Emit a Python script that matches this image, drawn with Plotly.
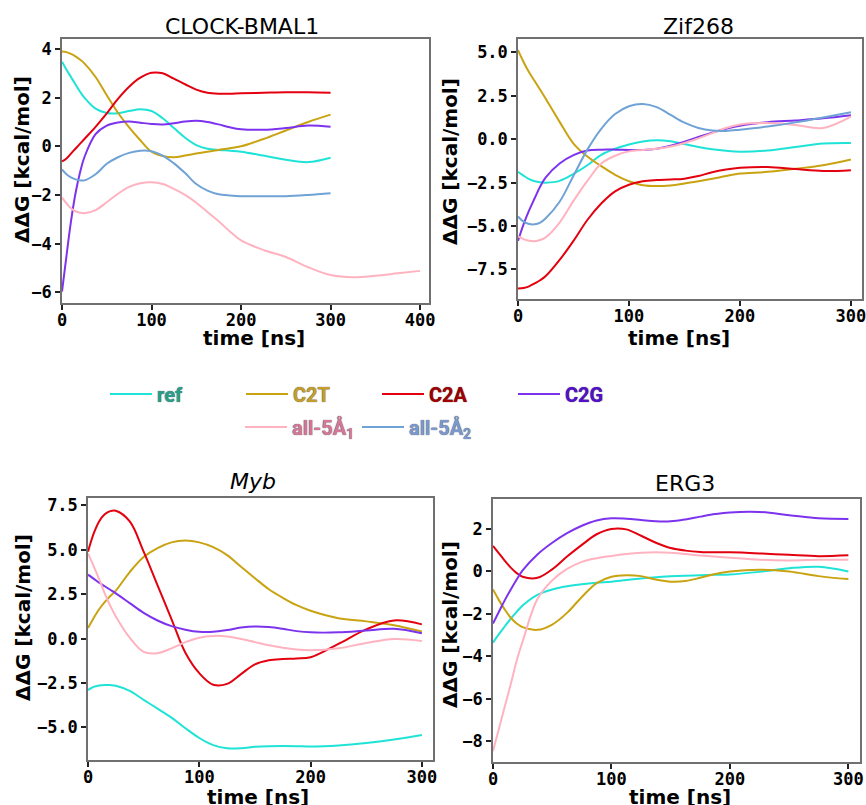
import plotly.graph_objects as go

W, H = 866, 805

# common time grid (ns)
t = [0, 5, 10, 15, 20, 25, 37.5, 50, 62.5, 75, 87.5, 100, 112.5, 125, 137.5,
     150, 162.5, 175, 187.5, 200, 225, 250, 275, 300]
t_long = t + [325, 350, 375, 400]

names = ["ref", "C2T", "C2A", "C2G", "all-5Å<sub>1</sub>", "all-5Å<sub>2</sub>"]
line_colors = ["#1fe3d7", "#c9a311", "#e3000f", "#7d33ee", "#ffb3c0", "#6fa3d6"]
text_colors = ["#2a9e8a", "#c49e2a", "#a00000", "#5410c8", "#d5779a", "#7b98cf"]

# CLOCK-BMAL1
cb_ref = [3.48, 3.15, 2.85, 2.55, 2.25, 2.0, 1.55, 1.37, 1.36, 1.45, 1.52, 1.45, 1.15, 0.75,
          0.35, 0.05, -0.1, -0.15, -0.18, -0.22, -0.38, -0.55, -0.65, -0.47]
cb_c2t = [3.9, 3.87, 3.8, 3.7, 3.57, 3.41, 2.85, 2.1, 1.38, 0.78, 0.25, -0.22, -0.4, -0.45,
          -0.38, -0.3, -0.22, -0.15, -0.08, 0.0, 0.3, 0.65, 1.0, 1.3]
cb_c2a = [-0.62, -0.5, -0.3, -0.1, 0.1, 0.3, 0.8, 1.35, 1.95, 2.45, 2.82, 3.02, 3.0, 2.78,
          2.55, 2.33, 2.2, 2.16, 2.16, 2.18, 2.2, 2.22, 2.22, 2.2]
cb_c2g = [-5.97, -4.5, -3.1, -1.95, -1.1, -0.45, 0.5, 0.85, 0.98, 1.02, 0.97, 0.92, 0.9, 0.95,
          1.02, 1.05, 1.0, 0.9, 0.78, 0.7, 0.68, 0.75, 0.85, 0.8]
cb_all1 = [-2.1, -2.35, -2.55, -2.67, -2.73, -2.75, -2.62, -2.3, -1.95, -1.67, -1.52, -1.48,
           -1.55, -1.75, -2.0, -2.32, -2.7, -3.08, -3.5, -3.87, -4.26, -4.55, -4.97, -5.29,
           -5.38, -5.32, -5.22, -5.12]
cb_all2 = [-0.95, -1.15, -1.28, -1.36, -1.4, -1.4, -1.15, -0.72, -0.45, -0.27, -0.18, -0.2,
           -0.38, -0.7, -1.1, -1.55, -1.82, -1.97, -2.02, -2.05, -2.05, -2.05, -2.0, -1.93]

# Zif268
zf_ref = [-1.87, -2.1, -2.3, -2.42, -2.48, -2.5, -2.4, -2.0, -1.5, -0.9, -0.55, -0.3, -0.13,
          -0.06, -0.12, -0.28, -0.45, -0.58, -0.67, -0.72, -0.65, -0.45, -0.25, -0.22]
zf_c2t = [5.13, 4.45, 3.85, 3.35, 2.85, 2.33, 1.0, -0.25, -1.0, -1.55, -2.05, -2.42, -2.65,
          -2.7, -2.66, -2.55, -2.42, -2.28, -2.12, -1.98, -1.88, -1.7, -1.5, -1.17]
zf_c2a = [-8.6, -8.57, -8.47, -8.3, -8.12, -7.88, -6.95, -5.85, -4.65, -3.7, -3.0, -2.62,
          -2.42, -2.35, -2.32, -2.27, -2.12, -1.9, -1.75, -1.65, -1.6, -1.72, -1.83, -1.78]
zf_c2g = [-5.85, -4.9, -4.1, -3.4, -2.72, -2.2, -1.4, -0.92, -0.65, -0.6, -0.6, -0.62, -0.62,
          -0.55, -0.38, -0.15, 0.13, 0.38, 0.6, 0.78, 0.98, 1.08, 1.2, 1.38]
zf_all1 = [-5.6, -5.75, -5.85, -5.87, -5.8, -5.65, -4.8, -3.55, -2.4, -1.4, -0.95, -0.7,
           -0.62, -0.55, -0.42, -0.22, 0.05, 0.35, 0.65, 0.85, 0.93, 0.82, 0.65, 1.3]
zf_all2 = [-4.45, -4.75, -4.88, -4.9, -4.8, -4.55, -3.6, -2.1, -0.6, 0.6, 1.45, 1.9, 2.03,
           1.85, 1.4, 0.95, 0.65, 0.5, 0.48, 0.55, 0.73, 0.97, 1.25, 1.55]

# Myb
my_ref = [-2.9, -2.72, -2.64, -2.61, -2.62, -2.66, -2.95, -3.45, -3.95, -4.45, -5.05, -5.6,
          -6.0, -6.18, -6.18, -6.1, -6.06, -6.05, -6.06, -6.08, -6.02, -5.88, -5.68, -5.43]
my_c2t = [0.6, 1.15, 1.65, 2.05, 2.4, 2.7, 3.75, 4.6, 5.1, 5.42, 5.52, 5.42, 5.15, 4.7, 4.05,
          3.4, 2.78, 2.3, 1.88, 1.57, 1.15, 0.97, 0.75, 0.4]
my_c2a = [4.9, 5.9, 6.6, 7.0, 7.18, 7.2, 6.6, 4.9, 3.0, 1.1, -0.8, -1.95, -2.6, -2.55, -2.0,
          -1.45, -1.22, -1.15, -1.12, -1.05, -0.3, 0.52, 1.02, 0.8]
my_c2g = [3.6, 3.38, 3.15, 2.95, 2.75, 2.55, 2.0, 1.45, 1.02, 0.7, 0.5, 0.38, 0.38, 0.48, 0.62,
          0.68, 0.65, 0.55, 0.42, 0.35, 0.35, 0.45, 0.55, 0.3]
my_all1 = [4.8, 4.1, 3.35, 2.55, 1.85, 1.25, 0.05, -0.75, -0.82, -0.55, -0.2, 0.05, 0.15, 0.12,
           -0.02, -0.2, -0.38, -0.52, -0.62, -0.66, -0.55, -0.25, -0.02, -0.13]

# ERG3
er_ref = [-3.35, -2.95, -2.58, -2.22, -1.9, -1.6, -1.1, -0.85, -0.7, -0.6, -0.53, -0.48, -0.4,
          -0.33, -0.27, -0.23, -0.2, -0.18, -0.16, -0.14, -0.02, 0.15, 0.22, 0.0]
er_c2t = [-0.85, -1.35, -1.8, -2.18, -2.45, -2.62, -2.75, -2.5, -1.95, -1.2, -0.55, -0.25,
          -0.18, -0.22, -0.38, -0.48, -0.45, -0.3, -0.12, 0.0, 0.08, 0.0, -0.22, -0.36]
er_c2a = [1.2, 0.85, 0.5, 0.18, -0.08, -0.25, -0.3, 0.1, 0.7, 1.25, 1.75, 2.0, 1.98, 1.68,
          1.35, 1.1, 0.98, 0.92, 0.9, 0.9, 0.85, 0.78, 0.72, 0.76]
er_c2g = [-2.45, -1.9, -1.35, -0.85, -0.38, 0.05, 0.8, 1.35, 1.8, 2.15, 2.4, 2.5, 2.48, 2.42,
          2.36, 2.36, 2.45, 2.58, 2.7, 2.78, 2.8, 2.65, 2.5, 2.47]
er_all1 = [-8.45, -7.4, -6.35, -5.3, -4.2, -3.3, -1.3, -0.42, 0.12, 0.45, 0.62, 0.73, 0.82,
           0.88, 0.9, 0.88, 0.82, 0.75, 0.7, 0.65, 0.55, 0.52, 0.55, 0.55]

panels = [
    dict(title="CLOCK-BMAL1", series=[(t, cb_ref), (t, cb_c2t), (t, cb_c2a), (t, cb_c2g),
                                      (t_long, cb_all1), (t, cb_all2)],
         box=(62, 429, 39, 303), xr=[0, 410], yr=[-6.44, 4.41], ytick=[-6, -4, -2, 0, 2, 4],
         xtick=[0, 100, 200, 300, 400], fmt="d",
         tpos=(242, 27), xlab=(254, 338), ylab=(22, 160)),
    dict(title="Zif268", series=[(t, zf_ref), (t, zf_c2t), (t, zf_c2a), (t, zf_c2g),
                                 (t, zf_all1), (t, zf_all2)],
         box=(518, 862, 39, 299), xr=[0, 310], yr=[-9.2, 5.77],
         ytick=[-7.5, -5.0, -2.5, 0.0, 2.5, 5.0], xtick=[0, 100, 200, 300], fmt=".1f",
         tpos=(698, 27), xlab=(679, 338), ylab=(450, 162)),
    dict(title="<i>Myb</i>", series=[(t, my_ref), (t, my_c2t), (t, my_c2a), (t, my_c2g),
                                     (t, my_all1), None],
         box=(88, 433, 498, 760), xr=[0, 310], yr=[-6.84, 7.92],
         ytick=[-5.0, -2.5, 0.0, 2.5, 5.0, 7.5], xtick=[0, 100, 200, 300], fmt=".1f",
         tpos=(253, 482), xlab=(258, 797), ylab=(23, 618)),
    dict(title="ERG3", series=[(t, er_ref), (t, er_c2t), (t, er_c2a), (t, er_c2g),
                               (t, er_all1), None],
         box=(493, 860, 499, 762), xr=[0, 309.8], yr=[-8.97, 3.41],
         ytick=[-8, -6, -4, -2, 0, 2], xtick=[0, 100, 200, 300], fmt="d",
         tpos=(685, 483), xlab=(680, 797), ylab=(450, 625)),
]

fig = go.Figure()
annotations = []
tick_font = dict(family="DejaVu Sans Mono", size=17, color="black", weight="bold")
label_font = dict(family="DejaVu Sans", size=20, color="black", weight="bold")

for i, p in enumerate(panels):
    k = "" if i == 0 else str(i + 1)
    for j, s in enumerate(p["series"]):
        if s is None:
            continue
        fig.add_trace(go.Scatter(
            x=s[0], y=s[1], mode="lines", xaxis="x" + k, yaxis="y" + k,
            line=dict(color=line_colors[j], width=2, shape="spline", smoothing=1.0),
            name="<span style='color:%s'>%s</span>" % (text_colors[j], names[j]),
            showlegend=(i == 0), legend="legend" if j < 4 else "legend2",
        ))
    x0, x1, y0, y1 = p["box"]
    ax = dict(showline=True, mirror=True, linecolor="#707070", linewidth=1.5,
              ticks="outside", ticklen=5, tickwidth=1.5, tickcolor="#222",
              showgrid=False, zeroline=False, tickfont=tick_font, automargin=False,
              ticklabeloverflow="allow")
    fig.update_layout(**{
        "xaxis" + k: dict(ax, domain=[x0 / W, x1 / W], range=p["xr"], tickvals=p["xtick"],
                          anchor="y" + k, ticklabelstandoff=-4),
        "yaxis" + k: dict(ax, domain=[1 - y1 / H, 1 - y0 / H], range=p["yr"],
                          tickvals=p["ytick"], tickformat=p["fmt"], anchor="x" + k),
    })
    annotations.append(dict(text=p["title"], x=p["tpos"][0] / W, y=1 - p["tpos"][1] / H,
                            font=dict(family="DejaVu Sans", size=22, color="black")))
    annotations.append(dict(text="time [ns]", x=p["xlab"][0] / W, y=1 - p["xlab"][1] / H,
                            font=label_font))
    annotations.append(dict(text="ΔΔG [kcal/mol]", x=p["ylab"][0] / W, y=1 - p["ylab"][1] / H,
                            textangle=-90, font=label_font))

for a in annotations:
    a.update(xref="paper", yref="paper", showarrow=False, xanchor="center", yanchor="middle")

legend_font = dict(family="Roboto", size=20, weight="bold", shadow="0px 0px 1px #333")
fig.update_layout(
    width=W, height=H,
    margin=dict(l=0, r=0, t=0, b=0, autoexpand=False),
    paper_bgcolor="white", plot_bgcolor="white",
    annotations=annotations,
    legend=dict(orientation="h", x=105 / W, xanchor="left", y=1 - 394 / H, yanchor="middle",
                entrywidth=79, entrywidthmode="pixels", itemwidth=42, font=legend_font,
                bgcolor="rgba(0,0,0,0)"),
    legend2=dict(orientation="h", x=240 / W, xanchor="left", y=1 - 427 / H, yanchor="middle",
                 entrywidth=60, entrywidthmode="pixels", itemwidth=42, font=legend_font,
                 bgcolor="rgba(0,0,0,0)"),
)

# drop the default page margin so the figure sits at the window's corner
fig.write_html("out.html", config={"displayModeBar": False},
               post_script="document.body.style.margin = '0px';")
